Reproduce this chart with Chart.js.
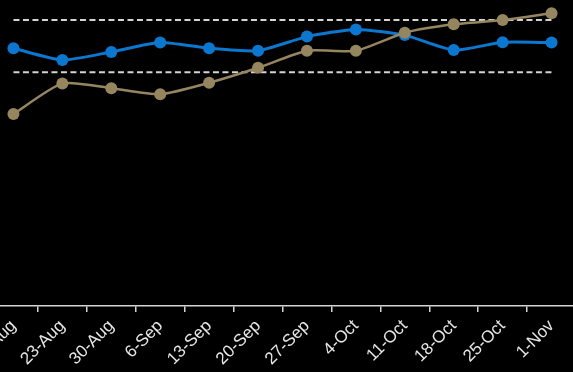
<!DOCTYPE html>
<html>
<head>
<meta charset="utf-8">
<script src="https://cdn.jsdelivr.net/npm/chart.js@4/dist/chart.umd.min.js"></script>
<style>
    html, body { margin: 0; padding: 0; background: #000; overflow: hidden; }
    #wrap { position: relative; width: 573px; height: 372px; overflow: hidden; }
    #grafica { position: absolute; left: -17px; top: 0; }
</style>
</head>
<body>
<div id="wrap">
    <canvas id="grafica" width="599" height="372"></canvas>
</div>
<script>
"use strict";

const semanas = ["16-Aug", "23-Aug", "30-Aug", "6-Sep", "13-Sep", "20-Sep",
    "27-Sep", "4-Oct", "11-Oct", "18-Oct", "25-Oct", "1-Nov"];

const serieAzul = [85.9, 82.0, 84.7, 87.8, 85.9, 85.1, 89.8, 92.2, 90.3, 85.3, 87.9, 87.8];
const serieDorada = [64.0, 74.2, 72.6, 70.6, 74.4, 79.4, 85.1, 85.1, 91.1, 93.9, 95.3, 97.6];

// limites de la banda punteada
const limiteSuperior = 95.3;
const limiteInferior = 77.9;

const AZUL = "#0b77cf";
const DORADO = "#968660";
const GRIS = "#d4d4d4";

function lineaConstante(valor) {
    return {
        data: semanas.map(() => valor),
        borderColor: GRIS,
        borderWidth: 2,
        borderDash: [6, 3.5],
        pointRadius: 0,
        tension: 0,
        order: 3,
    };
}

const ctx = document.querySelector("#grafica");

new Chart(ctx, {
    type: "line",
    data: {
        labels: semanas,
        datasets: [
            lineaConstante(limiteSuperior),
            lineaConstante(limiteInferior),
            {
                data: serieAzul,
                borderColor: AZUL,
                backgroundColor: AZUL,
                borderWidth: 3,
                pointRadius: 6,
                pointBorderWidth: 0,
                tension: 0.2,
                order: 2,
            },
            {
                data: serieDorada,
                borderColor: DORADO,
                backgroundColor: DORADO,
                borderWidth: 2.5,
                pointRadius: 6,
                pointBorderWidth: 0,
                tension: 0.2,
                order: 1,
            },
        ],
    },
    options: {
        responsive: false,
        animation: false,
        layout: { padding: { top: 6, left: 0, right: 0, bottom: 0 } },
        plugins: {
            legend: { display: false },
            tooltip: { enabled: false },
        },
        scales: {
            x: {
                offset: true,
                afterFit: (scale) => {
                    // el eje ocupa todo el ancho, sin reservar espacio para las etiquetas giradas
                    scale.height = 66;
                    scale.paddingLeft = 0;
                    scale.paddingRight = 0;
                },
                border: { display: true, color: GRIS, width: 1.5 },
                grid: {
                    offset: true,
                    drawOnChartArea: false,
                    drawTicks: true,
                    tickLength: 6,
                    color: GRIS,
                    lineWidth: 1.5,
                },
                ticks: {
                    autoSkip: false,
                    minRotation: 45,
                    maxRotation: 45,
                    padding: 4,
                    color: "#e6e6e6",
                    font: { family: "'Liberation Sans', Arial, sans-serif", size: 17 },
                },
            },
            y: {
                display: false,
                min: 0,
                max: 100,
            },
        },
    },
});
</script>
</body>
</html>
